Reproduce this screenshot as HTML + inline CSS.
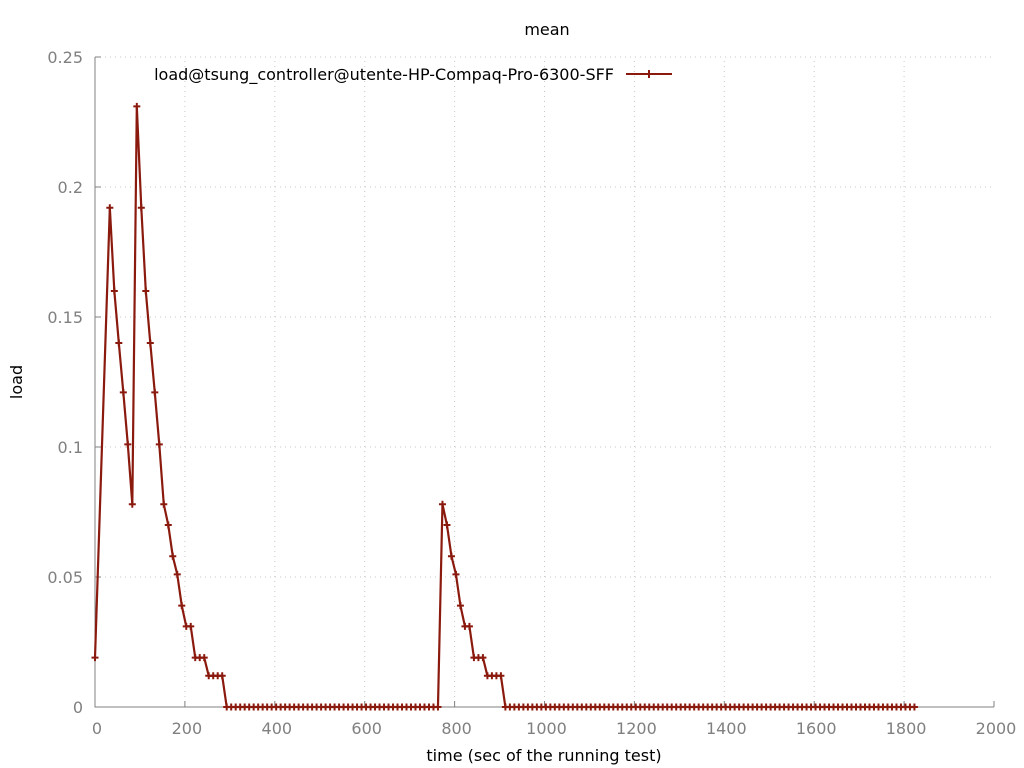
<!DOCTYPE html>
<html><head><meta charset="utf-8"><style>
html,body{margin:0;padding:0;background:#fff;}
svg{display:block;font-family:"DejaVu Sans","Liberation Sans",sans-serif;}
</style></head><body>
<svg id="chart" width="1024" height="768" viewBox="0 0 1024 768" xmlns="http://www.w3.org/2000/svg">
<text x="547" y="35" text-anchor="middle" font-size="16" fill="#000">mean</text>
<text transform="translate(22,382) rotate(-90)" text-anchor="middle" font-size="16" fill="#000">load</text>
<text x="544" y="761" text-anchor="middle" font-size="16" fill="#000">time (sec of the running test)</text>
<g id="grid"></g>
<g id="axes"></g>
<g id="series"></g>
<g>
<text x="614" y="80" text-anchor="end" font-size="16" fill="#000">load@tsung_controller@utente-HP-Compaq-Pro-6300-SFF</text>
<line x1="626" y1="74" x2="672" y2="74" stroke="#8b1a0e" stroke-width="2"/>
<path d="M645,74h8M649,70v8" stroke="#8b1a0e" stroke-width="2"/>
</g>
</svg>
<script>
const xTicks=[0,200,400,600,800,1000,1200,1400,1600,1800,2000];
const yTicks=[0,0.05,0.1,0.15,0.2,0.25];
const yTickLabels=["0","0.05","0.1","0.15","0.2","0.25"];
const firstX=0;
const startX=33;
const stepX=10;
const firstValue=0.019;
const burst1=[0.192,0.160,0.140,0.121,0.101,0.078,0.231,0.192,0.160,0.140,0.121,0.101,0.078,0.070,0.058,0.051,0.039,0.031,0.031,0.019,0.019,0.019,0.012,0.012,0.012,0.012];
const idle1Count=48;
const burst2=[0.078,0.070,0.058,0.051,0.039,0.031,0.031,0.019,0.019,0.019,0.012,0.012,0.012,0.012];
const idle2Count=92;

const X0=95,X1=994,Y0=707,Y1=57;
const xs=v=>X0+(v-0)/(2000-0)*(X1-X0);
const ys=v=>Y0-(v-0)/(0.25-0)*(Y0-Y1);
const NS="http://www.w3.org/2000/svg";
function mk(tag,attrs,parent){const e=document.createElementNS(NS,tag);for(const k in attrs)e.setAttribute(k,attrs[k]);parent.appendChild(e);return e;}
const grid=document.getElementById('grid'),axes=document.getElementById('axes'),series=document.getElementById('series');

xTicks.forEach((t,i)=>{
  const x=xs(t);
  if(i>0&&i<xTicks.length-1){const g=mk('line',{x1:x,y1:Y0,x2:x,y2:Y1,stroke:'#c8c8c8','stroke-width':1,'stroke-dasharray':'1,4'},grid);
  
  }
  const tk=mk('line',{x1:x,y1:Y0,x2:x,y2:Y0-6,stroke:'#808080'},axes);
  
  
  const tx=mk('text',{x:x+2,y:Y0+27,'text-anchor':'middle','font-size':16,fill:'#808080'},axes);
  
  
  tx.textContent=String(t);
});
yTicks.forEach((t,i)=>{
  const y=ys(t);
  if(i>0){const g=mk('line',{x1:X0,y1:y,x2:X1,y2:y,stroke:'#c8c8c8','stroke-width':1,'stroke-dasharray':'1,4'},grid);
  
  }
  const tk=mk('line',{x1:X0,y1:y,x2:X0+6,y2:y,stroke:'#808080'},axes);
  
  
  const tx=mk('text',{x:X0-12,y:y+6,'text-anchor':'end','font-size':16,fill:'#808080'},axes);
  
  
  tx.textContent=yTickLabels[i];
});
const ax=mk('path',{d:`M${X0},${Y1}V${Y0}H${X1}`,fill:'none',stroke:'#808080','stroke-width':1},axes);



const values=[].concat(burst1,new Array(idle1Count).fill(0),burst2,new Array(idle2Count).fill(0));
const pts=[[firstX,firstValue]];
values.forEach((v,i)=>pts.push([startX+i*stepX,v]));
const line=mk('polyline',{points:pts.map(p=>xs(p[0])+','+ys(p[1])).join(' '),fill:'none',stroke:'#8b1a0e','stroke-width':2.2,'stroke-linejoin':'round'},series);


pts.forEach(p=>{
  const x=xs(p[0]),y=ys(p[1]);
  const m=mk('path',{d:`M${x-3.5},${y}h7M${x},${y-3.5}v7`,stroke:'#8b1a0e','stroke-width':2},series);
  
  
});
</script>
</body></html>
